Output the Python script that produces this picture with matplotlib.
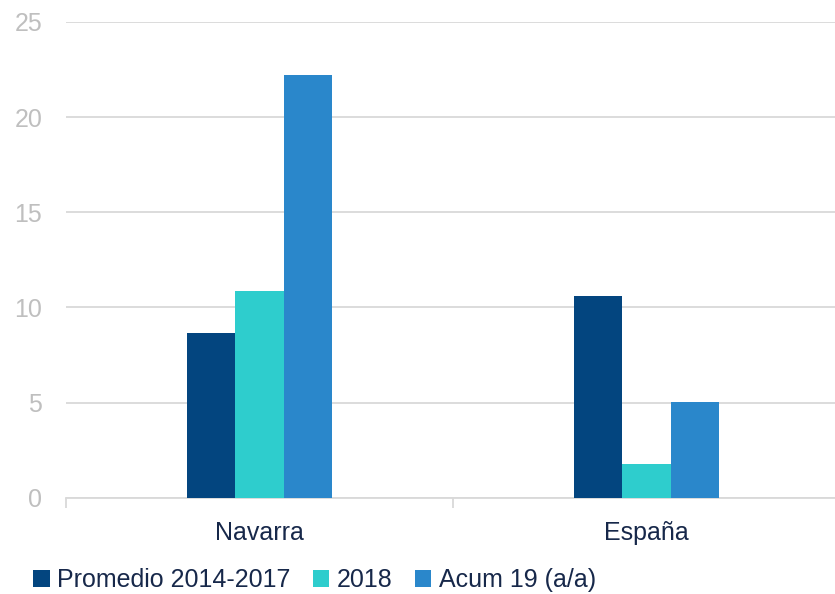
import numpy as np
import matplotlib
matplotlib.use("Agg")
import matplotlib.pyplot as plt
from matplotlib.patches import Patch

plt.rcParams['font.family'] = ['Liberation Sans', 'DejaVu Sans']

categories = ["Navarra", "España"]
series_names = ["Promedio 2014-2017", "2018", "Acum 19 (a/a)"]
promedio = [8.65, 10.6]
y2018 = [10.85, 1.75]
acum19 = [22.2, 5.05]
colors = ["#03457F", "#2ECDCD", "#2A87CB"]

fig = plt.figure(figsize=(8.35, 5.94), dpi=100)
ax = fig.add_axes([0.079, 0.162, 0.927, 0.801])

x = np.arange(len(categories))
w = 0.125
for i, vals in enumerate([promedio, y2018, acum19]):
    ax.bar(x + (i - 1) * w, vals, width=w, color=colors[i], zorder=3)

ax.set_xlim(-0.5, 1.5)
ax.set_ylim(0, 25)
ax.set_yticks(range(0, 26, 5))
ax.yaxis.grid(True, color="#D9D9D9", linewidth=1.3, zorder=0)
ax.tick_params(axis='y', length=0, pad=17, labelsize=18, labelcolor="#BFBFBF")

ax.set_xticks(x)
ax.set_xticklabels(categories)
ax.set_xticks([-0.5, 0.5, 1.5], minor=True)
ax.tick_params(axis='x', which='major', length=0, pad=17, labelsize=18, labelcolor="#17284A")
ax.tick_params(axis='x', which='minor', length=7, width=1.3, color="#D9D9D9")

for s in ['top', 'right', 'left']:
    ax.spines[s].set_visible(False)
ax.spines['bottom'].set_color("#D9D9D9")
ax.spines['bottom'].set_linewidth(1.3)

handles = [Patch(facecolor=c, label=n) for c, n in zip(colors, series_names)]
fig.legend(handles=handles, loc='lower left', bbox_to_anchor=(0.028, -0.014), ncol=3,
           frameon=False, fontsize=18, labelcolor="#17284A",
           handlelength=0.65, handleheight=0.65, handletextpad=0.3, columnspacing=0.9,
           borderaxespad=0)

fig.savefig("out.png", dpi=100)
